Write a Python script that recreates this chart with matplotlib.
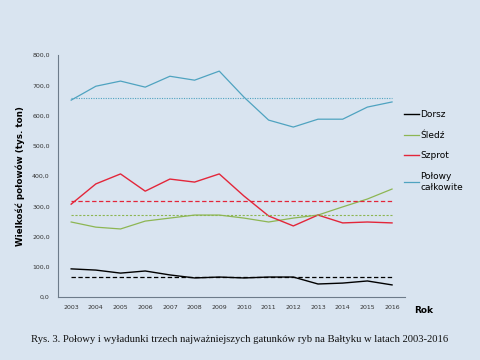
import numpy as np
import matplotlib
matplotlib.use('Agg')
import matplotlib.pyplot as plt
from matplotlib.ticker import FuncFormatter

years = list(range(2003, 2017))
dorsz = [93, 89, 79, 86, 73, 63, 66, 63, 66, 66, 43, 46, 53, 40]
sledz = [248, 231, 225, 251, 261, 271, 271, 261, 248, 261, 271, 298, 324, 357]
szprot = [307, 374, 407, 350, 390, 380, 407, 334, 268, 235, 271, 245, 248, 245]
calkowite = [651, 697, 714, 694, 730, 717, 747, 661, 585, 562, 588, 588, 628, 645]

bg = '#d9e4f0'
c_dorsz = '#000000'
c_sledz = '#8db653'
c_szprot = '#e3263a'
c_total = '#4fa3c0'

fig = plt.figure(figsize=(4.8, 3.6), dpi=100, facecolor=bg)
ax = fig.add_axes([0.121, 0.175, 0.723, 0.672], facecolor=bg)

ax.plot(years, dorsz, color=c_dorsz, lw=1.0, label='Dorsz')
ax.plot(years, sledz, color=c_sledz, lw=0.9, label='Śledź')
ax.plot(years, szprot, color=c_szprot, lw=1.0, label='Szprot')
ax.plot(years, calkowite, color=c_total, lw=0.9, label='Połowy\ncałkowite')

# linie średnich
ax.hlines(np.mean(dorsz), years[0], years[-1], colors=c_dorsz, lw=0.9, linestyles=(0, (3.5, 2)))
ax.hlines(np.mean(sledz), years[0], years[-1], colors=c_sledz, lw=0.8, linestyles=(0, (2, 1.5)))
ax.hlines(np.mean(szprot), years[0], years[-1], colors=c_szprot, lw=0.9, linestyles=(0, (3.5, 2)))
ax.hlines(np.mean(calkowite), years[0], years[-1], colors=c_total, lw=0.8, linestyles=(0, (1, 1.2)))

ax.set_xlim(2002.47, 2016.53)
ax.set_ylim(0, 800)
ax.set_xticks(years)
ax.set_yticks(range(0, 801, 100))
ax.yaxis.set_major_formatter(FuncFormatter(lambda v, p: f'{v:.1f}'.replace('.', ',')))
ax.tick_params(length=0, labelsize=4.5, colors='#333333', pad=6)

for s in ['top', 'right']:
    ax.spines[s].set_visible(False)
for s in ['left', 'bottom']:
    ax.spines[s].set_color('#6d7b8a')
    ax.spines[s].set_linewidth(0.8)

ax.set_ylabel('Wielkość połowów (tys. ton)', fontsize=6.3, fontweight='bold', labelpad=5)
fig.text(0.862, 0.137, 'Rok', fontsize=6.5, fontweight='bold', ha='left', va='center')

ax.legend(loc='upper left', bbox_to_anchor=(0.825, 0.717), bbox_transform=fig.transFigure,
          frameon=False, fontsize=6.5, handlelength=1.7, handletextpad=0.1,
          labelspacing=1.3)

fig.text(0.5, 0.056, 'Rys. 3. Połowy i wyładunki trzech najważniejszych gatunków ryb na Bałtyku w latach 2003-2016',
         fontsize=7.7, family='Liberation Serif', ha='center', va='center', color='#111111')

fig.savefig('out.png', dpi=100, facecolor=bg)
